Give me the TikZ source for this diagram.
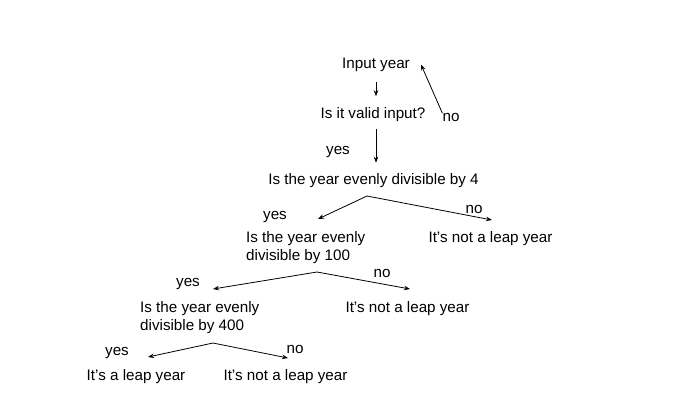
\documentclass[tikz,border=0pt]{standalone}
\usepackage{fontspec}
\setmainfont{Liberation Sans}
\usetikzlibrary{arrows.meta}
\begin{document}
\begin{tikzpicture}[x=1pt,y=-1pt,
  lbl/.style={font=\fontsize{15.2}{18.3}\selectfont, inner sep=0pt, yshift=-1.5pt},
  two/.style={lbl, align=left, anchor=west},
  arr/.style={-{Stealth[length=6pt,width=4.5pt]}, line width=0.8pt}]
\useasboundingbox (0,0) rectangle (695,408);
% Input and check
\node[lbl] (input) at (376,63) {Input year};
\node[lbl] (valid) at (373,113) {Is it valid input?};
\node[lbl] (no0) at (451,116) {no};
\node[lbl] (yes0) at (338,150) {yes};
\draw[arr, shorten <=10.5pt, shorten >=11pt] (input.south) -- (input.south |- valid.north);
\draw[arr] (no0.north west) -- ([xshift=11pt]input.east);
% Divisible by 4
\node[lbl] (q4) at (373.5,179) {Is the year evenly divisible by 4};
\draw[arr, shorten <=7.5pt, shorten >=10.5pt] (valid.south -| input.south) -- (input.south |- q4.north);
\node[lbl] (yes4) at (275,215) {yes};
\node[lbl] (no4) at (474,208) {no};
\coordinate (b4) at (367,196);
\coordinate (t4y) at (318,219);
\coordinate (t4n) at (492,220);
\draw[arr] (b4) -- (t4y);
\draw[arr] (b4) -- (t4n);
% Divisible by 100
\node[two] (q100) at (246,246) {Is the year evenly\\divisible by 100};
\node[lbl] (not4) at (490.5,237) {It’s not a leap year};
\node[lbl] (yes100) at (188,282) {yes};
\node[lbl] (no100) at (382,272) {no};
\coordinate (b100) at (317,272);
\coordinate (t100y) at (213,289);
\coordinate (t100n) at (410,289);
\draw[arr] (b100) -- (t100y);
\draw[arr] (b100) -- (t100n);
% Divisible by 400
\node[two] (q400) at (140,316) {Is the year evenly\\divisible by 400};
\node[lbl] (not100) at (407.5,307) {It’s not a leap year};
\node[lbl] (yes400) at (117,351) {yes};
\node[lbl] (no400) at (295,348) {no};
\coordinate (b400) at (213,343);
\coordinate (t400y) at (148,357);
\coordinate (t400n) at (288,358);
\draw[arr] (b400) -- (t400y);
\draw[arr] (b400) -- (t400n);
% Answers
\node[lbl] (leap) at (136,375) {It’s a leap year};
\node[lbl] (not400) at (285.5,375) {It’s not a leap year};
\end{tikzpicture}
\end{document}
